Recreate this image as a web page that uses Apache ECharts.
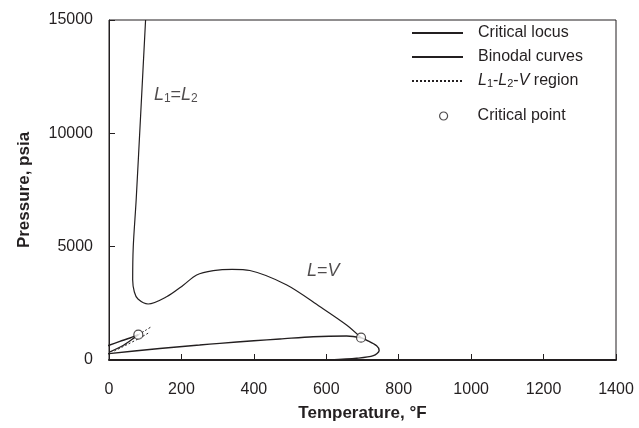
<!DOCTYPE html>
<html>
<head>
<meta charset="utf-8">
<script src="https://cdn.jsdelivr.net/npm/echarts@6/dist/echarts.min.js"></script>
<style>
  html, body { margin: 0; padding: 0; background: #fff; }
  #main { width: 639px; height: 428px; }
</style>
</head>
<body>
<div id="main"></div>
<script>
// data: [temperature °F, pressure psia]
const criticalLocus = [
  [101, 15000], [88, 11000], [75, 7060], [67, 5000], [65.4, 3530], [70, 3000],
  [80, 2690], [108, 2470], [159, 2790], [205, 3300], [242, 3750], [288, 3940],
  [340, 4000], [389, 3950], [491, 3310], [583, 2350], [656, 1544], [696, 984]
];
const binodalLoop = [
  [-10, 250], [0, 280], [140, 510], [250, 660], [306, 735], [400, 850], [472, 926],
  [564, 1029], [656, 1059], [696, 984], [711, 882], [739, 630], [746, 420],
  [730, 190], [684, 75], [610, 0]
];
const binodalUpper = [[-10, 600], [0, 650], [30, 820], [58, 970], [81, 1117]];
const binodalLower = [[3, 360], [40, 650], [72, 1010], [81, 1117]];
const threePhaseA = [[81, 1117], [100, 1300], [118, 1480]];
const threePhaseB = [[15, 400], [50, 680], [85, 970], [113, 1230]];
const criticalPoints = [[81, 1117], [696, 984]];
const annotations = [
  [124, 11690, '{i|L}{s|1}={i|L}{s|2}'],
  [547, 3926, '{i|L}={i|V}']
];

const chart = echarts.init(document.getElementById('main'));

const font = 'Liberation Sans, Arial, sans-serif';
const ink = '#231f20';
const legendRich = {
  i: { fontStyle: 'italic', fontSize: 16, fontFamily: font, color: ink },
  s: { fontSize: 11, fontFamily: font, color: ink, verticalAlign: 'bottom', padding: [6, 0, 0, 0] }
};
const labelRich = {
  i: { fontStyle: 'italic', fontSize: 18, fontFamily: font, color: ink },
  s: { fontSize: 12, fontFamily: font, color: ink, verticalAlign: 'bottom', padding: [7, 0, 0, 0] }
};

const lineSeries = (name, data, style) => ({
  name: name,
  type: 'line',
  data: data,
  symbol: 'none',
  smooth: 0.3,
  lineStyle: Object.assign({ color: ink, width: 1.4 }, style),
  itemStyle: { color: ink },
  silent: true,
  z: 3
});

const option = {
  backgroundColor: '#fff',
  animation: false,
  textStyle: { fontFamily: font },
  grid: {
    left: 109, right: 23, top: 20, bottom: 68,
    show: true, borderColor: ink, borderWidth: 1
  },
  legend: [
    {
      data: ['Critical locus', 'Binodal curves', 'L1-L2-V region'],
      left: 411, top: 25, orient: 'vertical', padding: 0,
      itemWidth: 51, itemHeight: 14, itemGap: 8,
      itemStyle: { opacity: 0 },
      textStyle: { fontSize: 16, color: ink, fontFamily: font, padding: [0, 0, 0, 10], rich: legendRich },
      formatter: function (n) {
        return n === 'L1-L2-V region' ? '{i|L}{s|1}-{i|L}{s|2}-{i|V} region' : n;
      }
    },
    {
      data: [{ name: 'Critical point', icon: 'circle' }],
      left: 439, top: 108, orient: 'vertical', padding: 0,
      itemWidth: 8, itemHeight: 8,
      itemStyle: { color: '#fff', borderColor: ink, borderWidth: 1.2 },
      textStyle: { fontSize: 16, color: ink, fontFamily: font, padding: [0, 0, 0, 25] }
    }
  ],
  xAxis: {
    type: 'value', min: 0, max: 1400, interval: 200,
    name: 'Temperature, °F', nameLocation: 'middle', nameGap: 45,
    nameTextStyle: { fontSize: 17, fontWeight: 'bold', color: ink, fontFamily: font },
    axisLine: { lineStyle: { color: ink, width: 2 } },
    axisTick: { inside: true, length: 6, lineStyle: { color: ink } },
    axisLabel: { fontSize: 16, color: ink, margin: 22, fontFamily: font, formatter: v => String(v) },
    splitLine: { show: false }
  },
  yAxis: {
    type: 'value', min: 0, max: 15000, interval: 5000,
    name: 'Pressure, psia', nameLocation: 'middle', nameGap: 76,
    nameTextStyle: { fontSize: 17, fontWeight: 'bold', color: ink, fontFamily: font },
    axisLine: { lineStyle: { color: ink, width: 1 } },
    axisTick: { inside: true, length: 6, lineStyle: { color: ink } },
    axisLabel: { fontSize: 16, color: ink, margin: 16, fontFamily: font, formatter: v => String(v) },
    splitLine: { show: false }
  },
  series: [
    lineSeries('Critical locus', criticalLocus, { width: 1.2 }),
    lineSeries('Binodal curves', binodalLoop, {}),
    lineSeries('Binodal curves', binodalUpper, {}),
    lineSeries('Binodal curves', binodalLower, {}),
    lineSeries('L1-L2-V region', threePhaseA, { width: 1, type: [2, 2] }),
    lineSeries('L1-L2-V region', threePhaseB, { width: 1, type: [2, 2] }),
    {
      name: 'Critical point',
      type: 'scatter',
      data: criticalPoints,
      symbol: 'circle',
      symbolSize: 9,
      itemStyle: { color: '#fff', borderColor: ink, borderWidth: 1.2 },
      silent: true,
      z: 5
    },
    {
      name: 'labels',
      type: 'scatter',
      data: annotations,
      symbolSize: 0,
      silent: true,
      label: {
        show: true, position: 'right', distance: 0,
        formatter: function (p) { return p.data[2]; },
        fontSize: 18, color: ink, fontFamily: font, rich: labelRich
      }
    }
  ]
};

chart.setOption(option);
</script>
</body>
</html>
